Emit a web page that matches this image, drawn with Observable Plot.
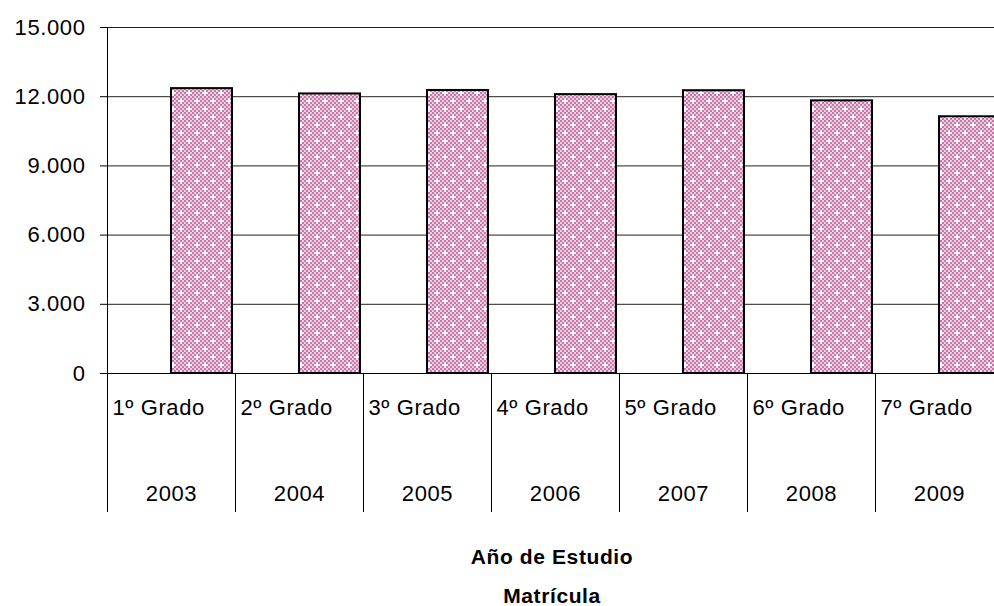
<!DOCTYPE html>
<html>
<head>
<meta charset="utf-8">
<script src="https://cdn.jsdelivr.net/npm/d3@7"></script>
<script src="https://cdn.jsdelivr.net/npm/@observablehq/plot@0.6"></script>
<style>
  body { margin: 0; background: #fff; width: 994px; height: 606px; overflow: hidden; position: relative;
         font-family: "Liberation Sans", Arial, sans-serif; }
  #chart { position: absolute; left: 0; top: 0; }
  .title { position: absolute; left: 352px; width: 400px; text-align: center; font-weight: bold;
           font-size: 21px; line-height: 21px; color: #000; letter-spacing: 0.6px; }
</style>
</head>
<body>
<svg width="0" height="0" style="position:absolute">
  <defs>
    <pattern id="checker" width="4" height="4" patternUnits="userSpaceOnUse">
      <rect width="4" height="4" fill="#f0cce2"></rect>
      <rect x="0" y="0" width="2" height="2" fill="#c47aa6"></rect>
      <rect x="2" y="2" width="2" height="2" fill="#c47aa6"></rect>
    </pattern>
    <pattern id="dots" width="16" height="16" patternUnits="userSpaceOnUse">
      <rect width="16" height="16" fill="url(#checker)"></rect>
      <rect x="4" y="2" width="2" height="6" fill="#fff" opacity="0.8"></rect>
      <rect x="2" y="4" width="6" height="2" fill="#fff" opacity="0.8"></rect>
      <rect x="12" y="10" width="2" height="6" fill="#fff" opacity="0.8"></rect>
      <rect x="10" y="12" width="6" height="2" fill="#fff" opacity="0.8"></rect>
    </pattern>
  </defs>
</svg>
<div id="chart"></div>
<div class="title" style="top:546px">Año de Estudio</div>
<div class="title" style="top:585px">Matrícula</div>
<script>
const years = ["2003", "2004", "2005", "2006", "2007", "2008", "2009"];
const grados = ["1º Grado", "2º Grado", "3º Grado", "4º Grado", "5º Grado", "6º Grado", "7º Grado"];
const matricula = [12350, 12120, 12270, 12090, 12260, 11820, 11130];
const yTicks = [0, 3000, 6000, 9000, 12000, 15000];
const yTickLabels = ["0", "3.000", "6.000", "9.000", "12.000", "15.000"];

const data = years.map((y, i) => ({year: y, grado: grados[i], value: matricula[i]}));

const plot = Plot.plot({
  width: 994,
  height: 520,
  marginLeft: 107,
  marginRight: 0,
  marginTop: 27,
  marginBottom: 147,
  x: {domain: years, range: [107, 1003], padding: 0, label: null},
  y: {domain: [0, 15000], label: null},
  style: {fontFamily: '"Liberation Sans", Arial, sans-serif', fontSize: "22px", color: "#000",
          background: "#fff", letterSpacing: "0.6px"},
  marks: [
    Plot.gridY(yTicks, {stroke: "#222", strokeOpacity: 1, strokeWidth: 1}),
    Plot.barY(data, {x: "year", y: "value", fill: "url(#dots)", stroke: "#000", strokeWidth: 2,
                     insetLeft: 64, insetRight: 3}),
    Plot.ruleY([0], {stroke: "#000"}),
    Plot.frame({anchor: "left", stroke: "#000"}),
    Plot.axisY({ticks: yTicks, tickFormat: d => yTickLabels[yTicks.indexOf(d)], tickSize: 7,
                tickPadding: 15, stroke: "#000", fill: "#000"}),
    Plot.axisX({ticks: years, tickSize: 139, tickFormat: () => "", dx: -64, stroke: "#000"}),
    Plot.axisX({ticks: years, tickSize: 0, tickPadding: 26, textAnchor: "start", dx: -59,
                tickFormat: d => grados[years.indexOf(d)], fill: "#000"}),
    Plot.axisX({ticks: years, tickSize: 0, tickPadding: 112, tickFormat: d => d, fill: "#000"})
  ]
});
document.getElementById("chart").appendChild(plot);
</script>
</body>
</html>
